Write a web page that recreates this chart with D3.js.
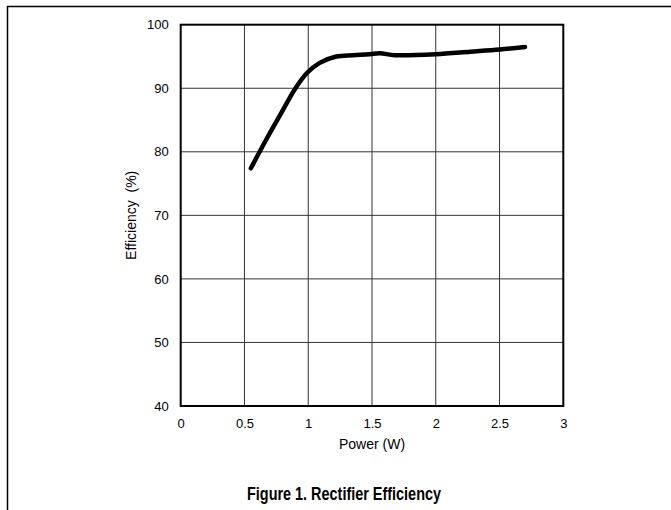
<!DOCTYPE html>
<html><head><meta charset="utf-8">
<script src="https://cdn.jsdelivr.net/npm/d3@7"></script>
<style>body{margin:0;background:#fff}svg{display:block}text{font-family:"Liberation Sans",Arial,sans-serif}</style>
</head><body>
<script>
const powerW = [0.55, 0.67, 0.78, 0.90, 0.99, 1.09, 1.22, 1.35, 1.48, 1.56, 1.68, 2.0, 2.27, 2.5, 2.7];
const efficiency = [77.4, 81.9, 85.8, 90.0, 92.4, 94.0, 95.0, 95.2, 95.35, 95.5, 95.2, 95.35, 95.75, 96.1, 96.5];
const xTicks = [0, 0.5, 1, 1.5, 2, 2.5, 3];
const yTicks = [40, 50, 60, 70, 80, 90, 100];
const xLabel = "Power (W)";
const yLabel = "Efficiency\u00a0\u00a0(%)";
const title = "Figure 1. Rectifier Efficiency";

const W = 671, H = 510;
const svg = d3.select("body").append("svg").attr("width", W).attr("height", H);
svg.append("path").attr("d", "M7.5,510 V6.5 H671").attr("fill","none").attr("stroke","#000").attr("stroke-width",1.5);

const L = 180.7, R = 563.3, T = 24.7, B = 406;
const x = d3.scaleLinear().domain([0,3]).range([L,R]);
const y = d3.scaleLinear().domain([40,100]).range([B,T]);

svg.append("g").selectAll("line").data(xTicks.slice(1,-1)).join("line")
  .attr("x1",d=>x(d)).attr("x2",d=>x(d)).attr("y1",T).attr("y2",B)
  .attr("stroke","#333").attr("stroke-width",1);
svg.append("g").selectAll("line").data(yTicks.slice(1,-1)).join("line")
  .attr("y1",d=>y(d)).attr("y2",d=>y(d)).attr("x1",L).attr("x2",R)
  .attr("stroke","#333").attr("stroke-width",1);
svg.append("rect").attr("x",L).attr("y",T).attr("width",R-L).attr("height",B-T)
  .attr("fill","none").attr("stroke","#000").attr("stroke-width",2);

const xa = svg.append("g").attr("transform",`translate(0,${B})`)
  .call(d3.axisBottom(x).tickValues(xTicks).tickFormat(d3.format("")).tickSize(0).tickPadding(13));
const ya = svg.append("g").attr("transform",`translate(${L},0)`)
  .call(d3.axisLeft(y).tickValues(yTicks).tickSize(0).tickPadding(12));
[xa,ya].forEach(g=>{
  g.attr("font-size",13).attr("font-family","Liberation Sans, Arial, sans-serif");
  g.select(".domain").remove();
  g.selectAll("text").attr("fill","#000");
});

svg.append("text").attr("x",(L+R)/2).attr("y",449).attr("text-anchor","middle").attr("font-size",14).text(xLabel);
svg.append("text").attr("transform",`translate(136,${(T+B)/2}) rotate(-90)`).attr("text-anchor","middle").attr("font-size",14).text(yLabel);
svg.append("text").attr("x",344).attr("y",500).attr("text-anchor","middle").attr("font-size",17.5).attr("font-weight","bold")
  .attr("textLength",194).attr("lengthAdjust","spacingAndGlyphs").text(title);

const line = d3.line().x((d,i)=>x(powerW[i])).y(d=>y(d)).curve(d3.curveCatmullRom.alpha(0.5));
svg.append("path").attr("d", line(efficiency)).attr("fill","none").attr("stroke","#000")
  .attr("stroke-width",4.5).attr("stroke-linecap","round").attr("stroke-linejoin","round");
</script>
</body></html>
